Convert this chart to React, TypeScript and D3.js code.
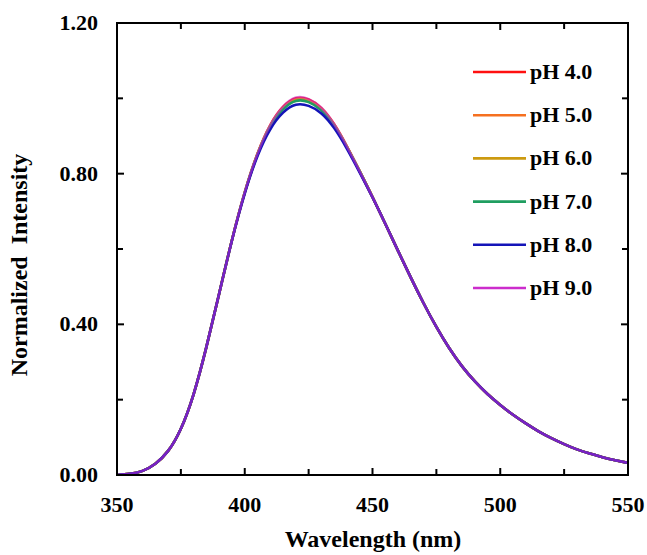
import React from "react";
import * as d3 from "d3";

const wavelengths = [350,355,360,365,370,375,380,385,390,395,400,405,410,415,420,425,430,435,440,445,450,455,460,465,470,475,480,485,490,495,500,505,510,515,520,525,530,535,540,545,550];

const ph4 = [0.000,0.003,0.011,0.030,0.064,0.123,0.215,0.340,0.482,0.624,0.750,0.853,0.929,0.977,1.000,0.997,0.974,0.931,0.872,0.806,0.738,0.667,0.595,0.524,0.456,0.393,0.337,0.289,0.249,0.215,0.186,0.160,0.137,0.116,0.098,0.082,0.068,0.057,0.047,0.039,0.032];
const ph5 = [0.000,0.003,0.011,0.030,0.064,0.123,0.215,0.340,0.482,0.624,0.750,0.852,0.927,0.974,0.997,0.994,0.971,0.929,0.871,0.806,0.738,0.667,0.595,0.524,0.456,0.393,0.337,0.289,0.249,0.215,0.186,0.160,0.137,0.116,0.098,0.082,0.068,0.057,0.047,0.039,0.032];
const ph6 = [0.000,0.003,0.011,0.030,0.064,0.123,0.215,0.340,0.482,0.624,0.750,0.852,0.926,0.973,0.995,0.992,0.970,0.928,0.871,0.806,0.738,0.667,0.595,0.524,0.456,0.393,0.337,0.289,0.249,0.215,0.186,0.160,0.137,0.116,0.098,0.082,0.068,0.057,0.047,0.039,0.032];
const ph7 = [0.000,0.003,0.011,0.030,0.064,0.123,0.215,0.340,0.482,0.624,0.750,0.851,0.925,0.971,0.993,0.990,0.968,0.927,0.870,0.806,0.738,0.667,0.595,0.524,0.456,0.393,0.337,0.289,0.249,0.215,0.186,0.160,0.137,0.116,0.098,0.082,0.068,0.057,0.047,0.039,0.032];
const ph8 = [0.000,0.003,0.011,0.030,0.064,0.123,0.215,0.340,0.482,0.623,0.747,0.847,0.918,0.962,0.983,0.980,0.960,0.921,0.866,0.803,0.737,0.667,0.595,0.524,0.456,0.393,0.337,0.289,0.249,0.215,0.186,0.160,0.137,0.116,0.098,0.082,0.068,0.057,0.047,0.039,0.032];
const ph9 = [0.000,0.003,0.011,0.030,0.064,0.123,0.215,0.340,0.482,0.624,0.751,0.853,0.929,0.978,1.002,0.998,0.975,0.931,0.872,0.806,0.738,0.667,0.595,0.524,0.456,0.393,0.337,0.289,0.249,0.215,0.186,0.160,0.137,0.116,0.098,0.082,0.068,0.057,0.047,0.039,0.032];

const seriesNames = ["pH 4.0","pH 5.0","pH 6.0","pH 7.0","pH 8.0","pH 9.0"];
const seriesValues = [ph4, ph5, ph6, ph7, ph8, ph9];
const seriesColors = ["#ff1010","#f57020","#cc9a10","#1f9e60","#1414b8","#cc2ccc"];
const seriesOpacity = [1, 1, 1, 1, 1, 0.55];

const xMajorTicks = [350, 400, 450, 500, 550];
const xMinorTicks = [375, 425, 475, 525];
const yMajorTicks = [0, 0.4, 0.8, 1.2];
const yMinorTicks = [0.2, 0.6, 1.0];

const W = 647, H = 555;
const left = 117, right = 628, top = 23, bottom = 475;
const font = "'Liberation Serif', 'Times New Roman', serif";

export default function App() {
  const x = d3.scaleLinear().domain([350, 550]).range([left, right]);
  const y = d3.scaleLinear().domain([0, 1.2]).range([bottom, top]);
  const line = d3.line<[number, number]>()
    .x(d => x(d[0]))
    .y(d => y(d[1]))
    .curve(d3.curveNatural);

  const tickLen = 7;
  const minorLen = 6;

  return (
    <svg width={W} height={H} style={{ position: "absolute", left: 0, top: 0, background: "#fff" }}>
      <defs>
        <clipPath id="plotclip">
          <rect x={left} y={top} width={right - left} height={bottom - top} />
        </clipPath>
      </defs>
      <g clipPath="url(#plotclip)">
        {seriesValues.map((vals, i) => (
          <path
            key={i}
            d={line(wavelengths.map((w, j) => [w, vals[j]] as [number, number])) || ""}
            fill="none"
            stroke={seriesColors[i]}
            strokeOpacity={seriesOpacity[i]}
            strokeWidth={2.6}
          />
        ))}
      </g>
      <rect x={left} y={top} width={right - left} height={bottom - top} fill="none" stroke="#000" strokeWidth={2} />
      {xMajorTicks.concat(xMinorTicks).map((t, i) => {
        const len = xMajorTicks.includes(t) ? tickLen : minorLen;
        return (
          <g key={"xt" + i}>
            <line x1={x(t)} x2={x(t)} y1={bottom} y2={bottom - len} stroke="#000" strokeWidth={2} />
            <line x1={x(t)} x2={x(t)} y1={top} y2={top + len} stroke="#000" strokeWidth={2} />
          </g>
        );
      })}
      {yMajorTicks.concat(yMinorTicks).map((t, i) => {
        const len = yMajorTicks.includes(t) ? tickLen : minorLen;
        return (
          <g key={"yt" + i}>
            <line x1={left} x2={left + len} y1={y(t)} y2={y(t)} stroke="#000" strokeWidth={2} />
            <line x1={right} x2={right - len} y1={y(t)} y2={y(t)} stroke="#000" strokeWidth={2} />
          </g>
        );
      })}
      {xMajorTicks.map((t, i) => (
        <text key={"xl" + i} x={x(t)} y={512} textAnchor="middle" fontFamily={font} fontWeight="bold" fontSize={22}>
          {t}
        </text>
      ))}
      {yMajorTicks.map((t, i) => (
        <text key={"yl" + i} x={98} y={y(t) + 7} textAnchor="end" fontFamily={font} fontWeight="bold" fontSize={22}>
          {t.toFixed(2)}
        </text>
      ))}
      <text x={373} y={547} textAnchor="middle" fontFamily={font} fontWeight="bold" fontSize={24}>
        Wavelength (nm)
      </text>
      <text
        transform={`translate(27, ${265}) rotate(-90)`}
        textAnchor="middle"
        fontFamily={font}
        fontWeight="bold"
        fontSize={24}
        style={{ whiteSpace: "pre" }}
      >
        {"Normalized  Intensity"}
      </text>
      {seriesNames.map((name, i) => {
        const ly = 72 + i * 43.2;
        return (
          <g key={"lg" + i}>
            <line x1={473} x2={526} y1={ly} y2={ly} stroke={seriesColors[i]} strokeWidth={2.6} />
            <text x={530} y={ly + 7} fontFamily={font} fontWeight="bold" fontSize={22}>
              {name}
            </text>
          </g>
        );
      })}
    </svg>
  );
}
